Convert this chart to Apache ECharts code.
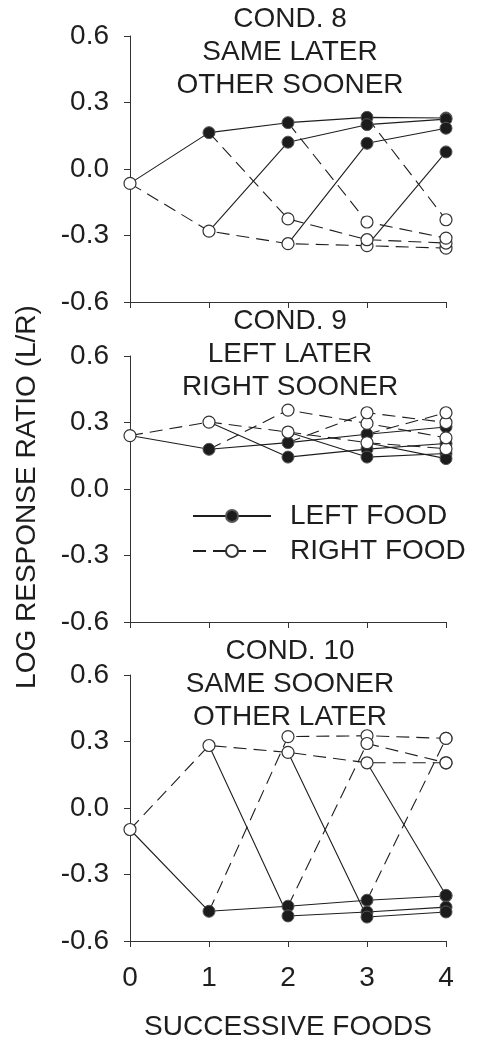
<!DOCTYPE html>
<html><head><meta charset="utf-8">
<script src="https://cdn.jsdelivr.net/npm/echarts@6/dist/echarts.min.js"></script>
<style>html,body{margin:0;padding:0;background:#fff}#c{width:484px;height:1044px}</style>
</head><body><div id="c"></div>
<script>
// ---- data ----
const foods = [0, 1, 2, 3, 4];            // successive foods (x)
const yTickValues = [-0.6, -0.3, 0.0, 0.3, 0.6];
const panelTitles = [
  'COND. 8\nSAME LATER\nOTHER SOONER',
  'COND. 9\nLEFT LATER\nRIGHT SOONER',
  'COND. 10\nSAME SOONER\nOTHER LATER'
];
const legendNames = ['LEFT FOOD', 'RIGHT FOOD'];

// Each run: value at food 0..4 (null = not on that path). First non-null is the branch point.
// COND. 8
const c8Start = -0.065;
const c8LeftRuns = [
  [-0.065, 0.164, 0.209, 0.233, 0.230],
  [null, -0.280, 0.121, 0.200, 0.225],
  [null, null, -0.337, 0.116, 0.184],
  [null, null, null, -0.346, 0.077]
];
const c8RightRuns = [
  [-0.065, -0.280, -0.337, -0.346, -0.357],
  [null, 0.164, -0.225, -0.319, -0.334],
  [null, null, 0.209, -0.239, -0.312],
  [null, null, null, 0.233, -0.229]
];
// COND. 9
const c9Start = 0.241;
const c9LeftRuns = [
  [0.241, 0.179, 0.209, 0.247, 0.280],
  [null, 0.302, 0.144, 0.180, 0.205],
  [null, null, 0.257, 0.144, 0.160],
  [null, null, null, 0.209, 0.137]
];
const c9RightRuns = [
  [0.241, 0.302, 0.257, 0.209, 0.182],
  [null, 0.179, 0.356, 0.296, 0.231],
  [null, null, 0.209, 0.344, 0.300],
  [null, null, null, 0.247, 0.344]
];
// COND. 10
const c10Start = -0.097;
const c10LeftRuns = [
  [-0.097, -0.466, -0.443, -0.416, -0.397],
  [null, 0.282, -0.487, -0.469, -0.447],
  [null, null, 0.251, -0.492, -0.469],
  [null, null, null, 0.204, -0.394]
];
const c10RightRuns = [
  [-0.097, 0.282, 0.251, 0.204, 0.204],
  [null, -0.466, 0.322, 0.326, 0.314],
  [null, null, -0.443, 0.291, 0.204],
  [null, null, null, -0.416, 0.314]
];

// ---- layout / style ----
const FONT = "'Liberation Sans', Arial, Helvetica, sans-serif";
const INK = '#1e1e1e';
const FILL_DARK = '#1c1c1c';
const DASH = [13, 7];
const panels = [
  { title: panelTitles[0], start: c8Start, left: c8LeftRuns, right: c8RightRuns, top: 36, titleY: 3 },
  { title: panelTitles[1], start: c9Start, left: c9LeftRuns, right: c9RightRuns, top: 356, titleY: 305 },
  { title: panelTitles[2], start: c10Start, left: c10LeftRuns, right: c10RightRuns, top: 675, titleY: 635 }
];
const GRID_LEFT = 130, GRID_W = 316, GRID_H = 266;

function runPoints(run) {
  const pts = [];
  run.forEach((v, i) => { if (v !== null) pts.push([foods[i], v]); });
  return pts;
}
function fmt(v) { return Math.abs(v) < 1e-9 ? '0.0' : v.toFixed(1); }

const grids = [], xAxes = [], yAxes = [], series = [], graphics = [];
panels.forEach((p, i) => {
  const last = i === panels.length - 1;
  grids.push({ left: GRID_LEFT, top: p.top, width: GRID_W, height: GRID_H, containLabel: false });
  xAxes.push({
    type: 'value', gridIndex: i, min: foods[0], max: foods[foods.length - 1], interval: 1,
    axisLine: { show: true, onZero: false, lineStyle: { color: '#333', width: 1 } },
    axisTick: { show: true, inside: false, length: 6, lineStyle: { color: '#333', width: 1 } },
    axisLabel: { show: last, margin: 23, fontSize: 28, color: INK, fontFamily: FONT },
    splitLine: { show: false }
  });
  yAxes.push({
    type: 'value', gridIndex: i, min: yTickValues[0], max: yTickValues[yTickValues.length - 1], interval: 0.3,
    axisLine: { show: true, onZero: false, lineStyle: { color: '#333', width: 1 } },
    axisTick: { show: true, inside: false, length: 6, lineStyle: { color: '#333', width: 1 } },
    axisLabel: { show: true, margin: 21, fontSize: 28, color: INK, fontFamily: FONT, formatter: fmt },
    splitLine: { show: false }
  });
  p.left.forEach(run => series.push({
    type: 'line', xAxisIndex: i, yAxisIndex: i, data: runPoints(run), showSymbol: false, silent: true,
    lineStyle: { color: INK, width: 1.1, type: 'solid' }, z: 2, animation: false
  }));
  p.right.forEach(run => series.push({
    type: 'line', xAxisIndex: i, yAxisIndex: i, data: runPoints(run), showSymbol: false, silent: true,
    lineStyle: { color: INK, width: 1.1, type: DASH }, z: 2, animation: false
  }));
  const filled = [], open = [[foods[0], p.start]];
  p.left.forEach(run => filled.push(...runPoints(run).slice(1)));
  p.right.forEach(run => open.push(...runPoints(run).slice(1)));
  series.push({
    type: 'scatter', xAxisIndex: i, yAxisIndex: i, data: filled, symbol: 'circle', symbolSize: 12, silent: true,
    itemStyle: { color: FILL_DARK, borderColor: '#555', borderWidth: 1, opacity: 1 }, z: 4, animation: false
  });
  series.push({
    type: 'scatter', xAxisIndex: i, yAxisIndex: i, data: open, symbol: 'circle', symbolSize: 12, silent: true,
    itemStyle: { color: '#fff', borderColor: '#333', borderWidth: 1.2, opacity: 1 }, z: 5, animation: false
  });
  graphics.push({
    type: 'text', x: 290, y: p.titleY, z: 10,
    style: { text: p.title, fill: INK, font: '28px ' + FONT, align: 'center', verticalAlign: 'top', lineHeight: 33 }
  });
});

// legend series (panel 2)
series.push({
  name: legendNames[0], type: 'line', xAxisIndex: 1, yAxisIndex: 1, data: [], symbol: 'circle', symbolSize: 12,
  lineStyle: { color: INK, width: 1.1, type: 'solid' },
  itemStyle: { color: FILL_DARK, borderColor: '#555', borderWidth: 1 }, animation: false
});
series.push({
  name: legendNames[1], type: 'line', xAxisIndex: 1, yAxisIndex: 1, data: [], symbol: 'circle', symbolSize: 12,
  lineStyle: { color: INK, width: 1.1, type: DASH },
  itemStyle: { color: '#fff', borderColor: '#333', borderWidth: 1.2 }, animation: false
});

graphics.push({
  type: 'text', x: 27, y: 497, rotation: Math.PI / 2,
  style: { text: 'LOG RESPONSE RATIO (L/R)', fill: INK, font: '28px ' + FONT, align: 'center', verticalAlign: 'middle' }
});
graphics.push({
  type: 'text', x: 288, y: 1027,
  style: { text: 'SUCCESSIVE FOODS', fill: INK, font: '28px ' + FONT, align: 'center', verticalAlign: 'middle' }
});

const chart = echarts.init(document.getElementById('c'), null, { renderer: 'canvas' });
chart.setOption({
  backgroundColor: '#fff',
  animation: false,
  grid: grids, xAxis: xAxes, yAxis: yAxes, series: series, graphic: graphics,
  legend: {
    data: legendNames, orient: 'vertical', left: 192, top: 502, padding: 0, itemWidth: 78, itemHeight: 15, itemGap: 7,
    selectedMode: false,
    textStyle: { fontSize: 28, color: INK, fontFamily: FONT, padding: [0, 0, 0, 14] }
  }
});
</script></body></html>
